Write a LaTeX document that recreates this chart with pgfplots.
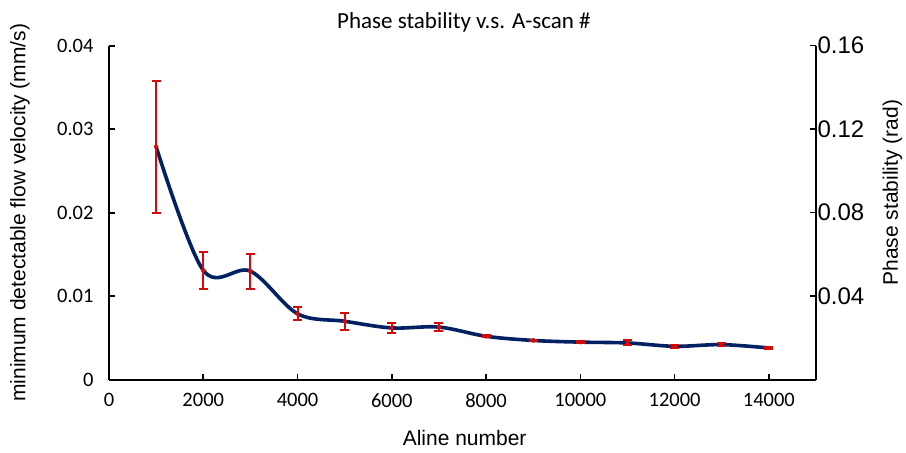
\documentclass[border=0pt]{standalone}
\usepackage{pgfplots}
\pgfplotsset{compat=1.18}
\usepackage{fontspec}
\setmainfont{Liberation Sans}
\newfontfamily\calibri{Carlito}
\definecolor{navy}{RGB}{0,34,98}
\definecolor{ebred}{RGB}{210,10,10}
\begin{document}
\begin{tikzpicture}
\begin{axis}[
  name=main,
  scale only axis,
  width=707pt, height=334pt,
  xmin=0, xmax=15000,
  ymin=0, ymax=0.04,
  scaled ticks=false,
  axis x line*=bottom,
  axis y line*=left,
  axis line style={line width=1.6pt},
  every tick/.style={line width=1.6pt, black},
  tick align=inside,
  major tick length=6pt,
  xtick={0,2000,4000,6000,8000,10000,12000,14000},
  xticklabels={0,2000,4000,6000,8000,10000,12000,14000},
  ytick={0,0.01,0.02,0.03,0.04},
  yticklabels={0,0.01,0.02,0.03,0.04},
  ticklabel style={font=\calibri\fontsize{20.5}{24}\selectfont},
  xticklabel style={yshift=-10pt},
  yticklabel style={xshift=-12pt},
  ylabel={minimum detectable flow velocity (mm/s)},
  ylabel style={at={(axis description cs:-0.126,0.5)}, anchor=center, font=\fontsize{21}{25}\selectfont},
  xlabel={Aline number},
  xlabel style={at={(axis description cs:0.503,-0.175)}, anchor=center, font=\fontsize{21}{25}\selectfont},
  title={Phase stability v.s. A-scan \#},
  title style={at={(axis description cs:0.502,1.053)}, anchor=center, font=\calibri\fontsize{23}{27}\selectfont},
  clip=false,
]
\addplot[navy, line width=3.6pt, smooth, tension=0.55] table {
x y
1000 0.0279
2000 0.0131
3000 0.0130
4000 0.0079
5000 0.0070
6000 0.0062
7000 0.0063
8000 0.0052
9000 0.0047
10000 0.0045
11000 0.0044
12000 0.0040
13000 0.0042
14000 0.0038
};
\addplot[ebred, only marks, mark=none,
  error bars/.cd, y dir=both, y explicit,
  error bar style={line width=2pt, ebred},
  error mark options={rotate=90, mark size=4.5pt, line width=2pt, ebred}]
  table[x=x, y=y, y error=e] {
x y e
1000 0.0279 0.0079
2000 0.0131 0.0022
3000 0.0130 0.0021
4000 0.0079 0.0008
5000 0.0070 0.0010
6000 0.0062 0.0006
7000 0.0063 0.0005
8000 0.0052 0.0001
9000 0.0047 0.0001
10000 0.0045 0.0001
11000 0.0044 0.0003
12000 0.0040 0.0002
13000 0.0042 0.0002
14000 0.0038 0.0001
};
\end{axis}
\begin{axis}[
  scale only axis,
  width=707pt, height=334pt,
  xmin=0, xmax=15000,
  ymin=0, ymax=0.16,
  scaled ticks=false,
  hide x axis,
  axis y line*=right,
  axis line style={line width=1.6pt},
  every tick/.style={line width=1.6pt, black},
  tick align=inside,
  major tick length=6pt,
  ytick={0.04,0.08,0.12,0.16},
  yticklabels={0.04,0.08,0.12,0.16},
  yticklabel style={font=\fontsize{24}{28}\selectfont, xshift=-2pt},
  ylabel={Phase stability (rad)},
  ylabel style={at={(axis description cs:1.108,0.56)}, anchor=center, font=\fontsize{21}{25}\selectfont},
]
\end{axis}
\path ([shift={(-109pt,-73pt)}]main.south west) rectangle ([shift={(90pt,45.7pt)}]main.north east);
\end{tikzpicture}
\end{document}
